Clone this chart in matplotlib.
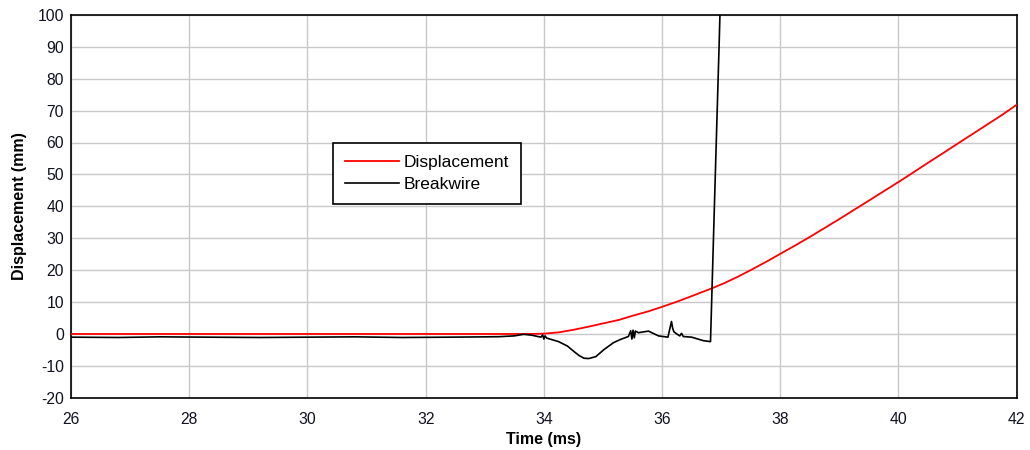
import matplotlib
matplotlib.use('Agg')
import matplotlib.pyplot as plt

plt.rcParams['font.family'] = ['Liberation Sans', 'DejaVu Sans']
plt.rcParams['axes.unicode_minus'] = False

# values (time in ms, displacement in mm)
disp_t = [26.0, 33.6, 33.9, 34.0, 34.25, 34.5, 34.76, 35.0, 35.27, 35.5, 35.77,
          36.0, 36.28, 36.55, 36.87, 37.05, 37.29, 37.55, 37.8, 38.0, 38.25,
          38.5, 38.75, 39.0, 39.25, 39.51, 39.75, 40.0, 40.25, 40.53, 40.75,
          41.04, 41.3, 41.55, 41.75, 42.0]
disp_mm = [0.0, 0.0, 0.05, 0.1, 0.5, 1.3, 2.3, 3.3, 4.4, 5.7, 7.1,
           8.5, 10.3, 12.2, 14.5, 15.9, 18.0, 20.5, 23.0, 25.1, 27.7,
           30.4, 33.2, 36.0, 38.9, 41.9, 44.7, 47.6, 50.6, 54.0, 56.6,
           60.1, 63.2, 66.2, 68.6, 71.8]

wire_t = [26.0, 26.8, 27.5, 28.3, 29.2, 30.0, 30.8, 31.6, 32.4, 33.0, 33.24,
          33.5, 33.66, 33.8, 33.95, 33.98, 34.0, 34.02, 34.05, 34.25, 34.4,
          34.51, 34.6, 34.68, 34.76, 34.88, 35.01, 35.18, 35.3, 35.43, 35.47,
          35.49, 35.51, 35.53, 35.55, 35.6, 35.77, 35.94, 36.1, 36.13, 36.16,
          36.18, 36.2, 36.25, 36.3, 36.33, 36.36, 36.5, 36.7, 36.82, 36.83,
          36.886, 36.966, 36.98, 37.0]
wire_mm = [-1.0, -1.1, -0.9, -1.0, -1.1, -1.0, -0.9, -1.1, -1.0, -0.9, -0.85,
           -0.6, -0.1, -0.4, -1.0, -0.3, -1.6, -0.6, -1.3, -2.4, -3.8,
           -5.5, -6.8, -7.6, -7.7, -7.1, -5.0, -2.7, -1.7, -0.8, 1.0,
           -1.6, 1.2, -1.2, 0.9, 0.4, 0.9, -0.6, -1.0, 1.5, 3.9,
           1.8, 0.7, 0.0, -0.6, 0.2, -0.8, -1.0, -2.1, -2.4, 3.9,
           40.0, 90.6, 100.0, 105.0]

fig, ax = plt.subplots(figsize=(10.3, 4.5), dpi=100)
fig.subplots_adjust(left=0.069, right=0.987, top=0.967, bottom=0.116)

ax.plot(disp_t, disp_mm, color='#ff0000', lw=1.3, label='Displacement', zorder=3)
ax.plot(wire_t, wire_mm, color='black', lw=1.2, label='Breakwire', zorder=4)

ax.set_xlim(26, 42)
ax.set_ylim(-20, 100)
ax.set_xticks(range(26, 43, 2))
ax.set_yticks(range(-20, 101, 10))
ax.grid(True, color='#c8c8c8', lw=1.0)
ax.set_axisbelow(True)
ax.tick_params(length=0, labelsize=11.3, labelcolor='#111122')
ax.tick_params(axis='x', pad=10)
ax.tick_params(axis='y', pad=5)
for s in ax.spines.values():
    s.set_linewidth(1.2)
    s.set_color('black')

ax.set_xlabel('Time (ms)', fontsize=11.5, fontweight='bold', labelpad=4)
ax.set_ylabel('Displacement (mm)', fontsize=11.5, fontweight='bold', labelpad=8)

leg = ax.legend(loc='upper left', bbox_to_anchor=(0.277, 0.666), fontsize=12.5,
                frameon=True, fancybox=False, edgecolor='black', framealpha=1,
                handlelength=3.1, borderpad=0.68, labelspacing=0.4,
                handletextpad=0.3, borderaxespad=0)
leg.get_frame().set_linewidth(1.2)

fig.savefig('out.png', dpi=100)
